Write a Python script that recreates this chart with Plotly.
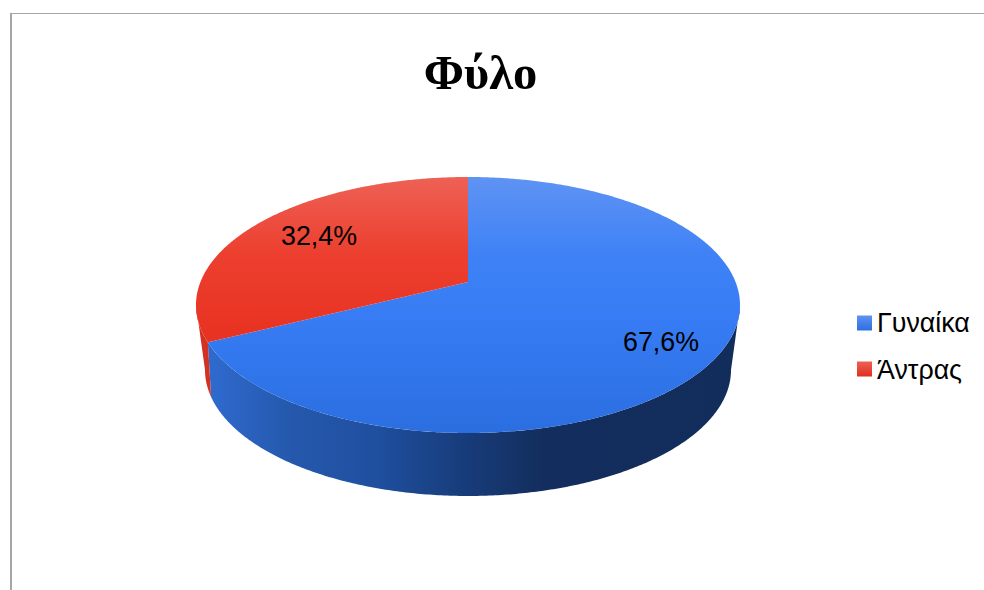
import numpy as np
import plotly.graph_objects as go

# Chart data
categories = ["Γυναίκα", "Άντρας"]
shares = [67.6, 32.4]
title_text = "Φύλο"

# Styling per category
top_scales = [
    [[0, "#5f93f3"], [0.3, "#3f82f6"], [0.55, "#377cf4"], [1, "#2a6ee0"]],
    [[0, "#ee6155"], [0.3, "#ec3f2f"], [0.6, "#e93322"], [1, "#d62f20"]],
]
wall_scales = [
    [[0, "#2f6bd0"], [0.165, "#2558ac"], [0.32, "#1f4f9f"], [0.476, "#183d7c"],
     [0.63, "#132e5e"], [1, "#122d5b"]],
    [[0, "#d23222"], [1, "#c22c1c"]],
]
swatch_scales = [
    [[0, "#5f93f3"], [1, "#2c6fe0"]],
    [[0, "#ee6155"], [1, "#e02f1f"]],
]

# Pie geometry on the pixel-sized axes: (centre y, x radius, y radius, apex lift)
CX = 468
TOP_RIM = (305, 272, 128, 0.18)
BOTTOM_RIM = (370, 263, 126, 0.259)


def rim(theta_deg, geometry):
    """Project clockwise-from-north rim angles onto a receding ellipse."""
    cy, rx, ry, lift = geometry
    t = np.radians(theta_deg)
    u, v = np.sin(t), np.cos(t)
    den = 1 + lift * v
    a = rx * np.sqrt(1 - lift**2)
    return CX + a * u / den, cy - ry * (v + lift) / den


def side_angle(geometry):
    """Clockwise angle of the rim point furthest to the right."""
    return np.degrees(np.arccos(-geometry[3]))


def arc(start, stop):
    return np.linspace(start, stop, max(3, int(abs(stop - start) * 2)))


fractions = np.array(shares) / sum(shares) * 360
split = fractions[0]
spans = [(0.0, split), (split, 360.0)]

fig = go.Figure()


def polygon(xs, ys, name, scale, kind, start, stop):
    fig.add_trace(go.Scatter(
        x=xs, y=ys, mode="none", fill="toself", name=name,
        hoverinfo="skip", showlegend=False,
        fillgradient=dict(type=kind, colorscale=scale, start=start, stop=stop),
    ))


# Side walls first, so the top faces sit over them
top_side, bottom_side = side_angle(TOP_RIM), side_angle(BOTTOM_RIM)
wall_arcs = [
    (arc(top_side, split), arc(split, bottom_side)),
    (arc(split, 360 - top_side), arc(360 - bottom_side, split)),
]
for name, (upper, lower), scale in zip(categories, wall_arcs, wall_scales):
    x1, y1 = rim(upper, TOP_RIM)
    x2, y2 = rim(lower, BOTTOM_RIM)
    polygon(np.r_[x1, x2], np.r_[y1, y2], name, scale, "horizontal", 205, 740)

# Top faces
apex_y = TOP_RIM[0] - TOP_RIM[2] * TOP_RIM[3]
face_top, face_bottom = TOP_RIM[0] - TOP_RIM[2], TOP_RIM[0] + TOP_RIM[2]
for name, (a, b), scale in zip(categories, spans, top_scales):
    x, y = rim(arc(a, b), TOP_RIM)
    polygon(np.r_[CX, x, CX], np.r_[apex_y, y, apex_y], name, scale, "vertical",
            face_top, face_bottom)

# Percentage labels
label_x = [661, 319]
label_y = [344, 238]
fig.add_trace(go.Scatter(
    x=label_x, y=label_y, mode="text", hoverinfo="skip", showlegend=False,
    text=[f"{v:.1f}%".replace(".", ",") for v in shares],
    textposition="middle center",
    textfont=dict(family="Liberation Sans", size=26.8, color="#000000"),
))

# Legend: gradient swatches with text beside them
LEGEND_X, SWATCH = 857, 15
legend_y = [323, 369]
legend_text_y = [325, 372]
for name, y, scale in zip(categories, legend_y, swatch_scales):
    half = SWATCH / 2
    polygon([LEGEND_X, LEGEND_X + SWATCH, LEGEND_X + SWATCH, LEGEND_X, LEGEND_X],
            [y - half, y - half, y + half, y + half, y - half],
            name, scale, "vertical", y - half, y + half)
fig.add_trace(go.Scatter(
    x=[LEGEND_X + 20] * len(categories), y=legend_text_y, mode="text",
    hoverinfo="skip", showlegend=False, text=categories,
    textposition="middle right",
    textfont=dict(family="Liberation Sans", size=26.8, color="#000000"),
))

fig.update_layout(
    width=984, height=590,
    margin=dict(l=0, r=0, t=0, b=0),
    paper_bgcolor="white", plot_bgcolor="white",
    showlegend=False,
    title=dict(
        text=f"<b>{title_text}</b>", x=480.5 / 984, y=1 - 72 / 590,
        xanchor="center", yanchor="middle",
        font=dict(family="Liberation Serif", size=48.5, color="#000000"),
    ),
    xaxis=dict(range=[0, 984], visible=False, fixedrange=True),
    yaxis=dict(range=[590, 0], visible=False, fixedrange=True),
    shapes=[
        dict(type="line", x0=11, x1=11, y0=13, y1=590,
             line=dict(color="#a6a6a6", width=2)),
        dict(type="line", x0=10, x1=984, y0=13.5, y1=13.5,
             line=dict(color="#a6a6a6", width=1)),
    ],
)

fig.write_html("out.html", config={"displayModeBar": False})
